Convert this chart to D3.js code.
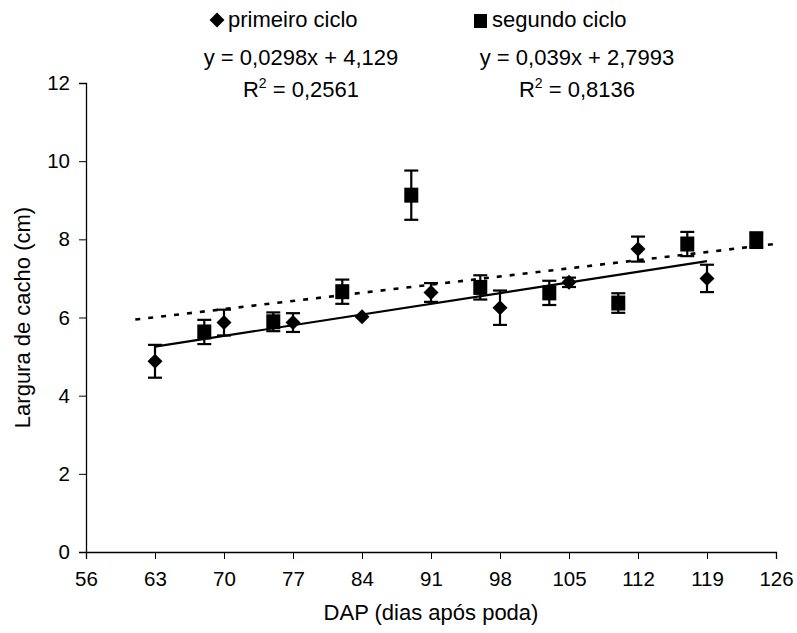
<!DOCTYPE html>
<html>
<head>
<meta charset="utf-8">
<script src="https://cdn.jsdelivr.net/npm/d3@7"></script>
<style>
  html, body { margin: 0; padding: 0; background: #fff; }
  svg { display: block; }
  text { font-family: "Liberation Sans", Arial, Helvetica, sans-serif; fill: #000; }
</style>
</head>
<body>
<svg id="chart" width="797" height="633"></svg>
<script>
// ---- data ----
const xTicks = [56, 63, 70, 77, 84, 91, 98, 105, 112, 119, 126];
const yTicks = [0, 2, 4, 6, 8, 10, 12];

const primeiroX   = [63, 70, 77, 84, 91, 98, 105, 112, 119];
const primeiroY   = [4.88, 5.87, 5.87, 6.02, 6.64, 6.25, 6.90, 7.75, 7.00];
const primeiroErr = [0.42, 0.33, 0.24, 0.00, 0.24, 0.44, 0.12, 0.32, 0.35];

const segundoX   = [68, 75, 82, 89, 96, 103, 110, 117, 124];
const segundoY   = [5.63, 5.89, 6.66, 9.13, 6.77, 6.63, 6.37, 7.88, 7.98];
const segundoErr = [0.31, 0.24, 0.31, 0.63, 0.31, 0.31, 0.25, 0.31, 0.20];

// trend lines as drawn (slope, intercept, x start, x end)
const trendPrimeiro = [0.039, 2.7993, 63, 119];
const trendSegundo  = [0.0298, 4.129, 61, 126];

const legendLabels = ["primeiro ciclo", "segundo ciclo"];
const eqLabels = ["y = 0,0298x + 4,129", "y = 0,039x + 2,7993"];
const r2Labels = ["0,2561", "0,8136"];

// ---- layout ----
const svg = d3.select("#chart");
const mLeft = 86, mRight = 776, mTop = 83, mBottom = 552;

const x = d3.scaleLinear().domain([56, 126]).range([mLeft, mRight]);
const y = d3.scaleLinear().domain([0, 12]).range([mBottom, mTop]);

// axes
const xAxis = d3.axisBottom(x).tickValues(xTicks).tickSize(7).tickPadding(8).tickFormat(d3.format("d"));
const yAxis = d3.axisLeft(y).tickValues(yTicks).tickSize(7).tickPadding(9).tickFormat(d3.format("d"));

const gx = svg.append("g").attr("transform", `translate(0,${mBottom})`).call(xAxis);
const gy = svg.append("g").attr("transform", `translate(${mLeft},0)`).call(yAxis);
[gx, gy].forEach(g => {
  g.select(".domain").attr("stroke", "#000").attr("stroke-width", 1.3);
  g.selectAll(".tick line").attr("stroke", "#000").attr("stroke-width", 1);
  g.selectAll(".tick text").attr("font-size", 20.5).attr("font-family", '"Liberation Sans", Arial, sans-serif').attr("fill", "#000");
});
gx.selectAll(".tick text").attr("dy", "0.95em");

// axis titles
svg.append("text")
  .attr("x", (mLeft + mRight) / 2).attr("y", 620)
  .attr("text-anchor", "middle").attr("font-size", 22)
  .text("DAP (dias após poda)");
svg.append("text")
  .attr("transform", `translate(30,${(mTop + mBottom) / 2}) rotate(-90)`)
  .attr("text-anchor", "middle").attr("font-size", 22)
  .text("Largura de cacho (cm)");

// trend lines
const line = d3.line().x(d => x(d[0])).y(d => y(d[1]));
function trendPts(t) { return [[t[2], t[0] * t[2] + t[1]], [t[3], t[0] * t[3] + t[1]]]; }
svg.append("path").datum(trendPts(trendSegundo)).attr("d", line)
  .attr("fill", "none").attr("stroke", "#000").attr("stroke-width", 2.6)
  .attr("stroke-dasharray", "5,8");
svg.append("path").datum(trendPts(trendPrimeiro)).attr("d", line)
  .attr("fill", "none").attr("stroke", "#000").attr("stroke-width", 2.2);

// error bars
function errorBars(xs, ys, es) {
  const data = xs.map((v, i) => ({ x: v, y: ys[i], e: es[i] })).filter(d => d.e > 0);
  const g = svg.append("g").attr("stroke", "#000").attr("stroke-width", 2.2).attr("fill", "none");
  g.selectAll("line.stem").data(data).join("line").attr("class", "stem")
    .attr("x1", d => x(d.x)).attr("x2", d => x(d.x))
    .attr("y1", d => y(d.y - d.e)).attr("y2", d => y(d.y + d.e));
  g.selectAll("line.capT").data(data).join("line").attr("class", "capT")
    .attr("x1", d => x(d.x) - 7).attr("x2", d => x(d.x) + 7)
    .attr("y1", d => y(d.y + d.e)).attr("y2", d => y(d.y + d.e));
  g.selectAll("line.capB").data(data).join("line").attr("class", "capB")
    .attr("x1", d => x(d.x) - 7).attr("x2", d => x(d.x) + 7)
    .attr("y1", d => y(d.y - d.e)).attr("y2", d => y(d.y - d.e));
}
errorBars(primeiroX, primeiroY, primeiroErr);
errorBars(segundoX, segundoY, segundoErr);

// markers
const diamond = "M0,-7.5L7.5,0L0,7.5L-7.5,0Z";
svg.append("g").selectAll("path").data(primeiroX.map((v, i) => [v, primeiroY[i]])).join("path")
  .attr("d", diamond).attr("fill", "#000")
  .attr("transform", d => `translate(${x(d[0])},${y(d[1])})`);
svg.append("g").selectAll("rect").data(segundoX.map((v, i) => [v, segundoY[i]])).join("rect")
  .attr("x", d => x(d[0]) - 7).attr("y", d => y(d[1]) - 7.5)
  .attr("width", 14).attr("height", 15).attr("fill", "#000");

// legend
svg.append("path").attr("d", diamond).attr("fill", "#000").attr("transform", "translate(217,20)");
svg.append("text").attr("x", 228).attr("y", 27).attr("font-size", 22).text(legendLabels[0]);
svg.append("rect").attr("x", 474).attr("y", 14).attr("width", 13).attr("height", 14).attr("fill", "#000");
svg.append("text").attr("x", 492).attr("y", 27).attr("font-size", 22).text(legendLabels[1]);

// equations
const eqCenters = [301, 577];
eqCenters.forEach((cx, i) => {
  svg.append("text").attr("x", cx).attr("y", 65).attr("text-anchor", "middle")
    .attr("font-size", 22).text(eqLabels[i]);
  const t = svg.append("text").attr("x", cx).attr("y", 97).attr("text-anchor", "middle").attr("font-size", 22);
  t.append("tspan").text("R");
  t.append("tspan").attr("font-size", 14).attr("dy", -9).text("2");
  t.append("tspan").attr("dy", 9).text(" = " + r2Labels[i]);
});
</script>
</body>
</html>
